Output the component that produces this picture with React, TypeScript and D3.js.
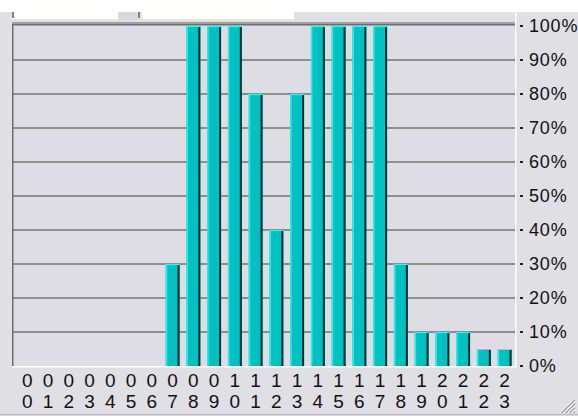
import React from "react";
import * as d3 from "d3";

const hours = ["00","01","02","03","04","05","06","07","08","09","10","11","12","13","14","15","16","17","18","19","20","21","22","23"];
const values = [0,0,0,0,0,0,0,30,100,100,100,80,40,80,100,100,100,100,30,10,10,10,5,5];
const yTicks = [0,10,20,30,40,50,60,70,80,90,100];

const W = 578, H = 418;
const plotL = 12, plotR = 515, plotT = 24, plotB = 366;

export default function App() {
  const x = d3.scaleBand<string>().domain(hours).range([17, 515]).paddingInner(0.33).paddingOuter(0.165);
  const y = d3.scaleLinear().domain([0, 100]).range([366, 26]);
  const bw = x.bandwidth();
  const font = "'Liberation Sans', Arial, sans-serif";
  return (
    <svg width={W} height={H} style={{ position: "absolute", left: 0, top: 0, display: "block" }}>
      <rect x={0} y={0} width={W} height={H} fill="#ffffff" />
      <rect x={0} y={12} width={W} height={403} fill="#dfdfe4" />
      {/* top strip boxes */}
      <rect x={12} y={12} width={106} height={8} fill="#fefefa" />
      <rect x={12} y={19} width={106} height={1} fill="#ece9d8" />
      <rect x={118} y={12} width={20} height={8} fill="#d8d8de" />
      <rect x={138} y={12} width={2} height={6} fill="#808080" />
      <rect x={142} y={12} width={152} height={8} fill="#fefefa" />
      <rect x={142} y={19} width={152} height={1} fill="#ece9d8" />
      <rect x={12} y={12} width={2} height={6} fill="#808080" />
      {/* plot area */}
      <rect x={plotL} y={plotT} width={plotR - plotL} height={plotB - plotT} fill="#dddde3" />
      {yTicks.filter(t => t > 0 && t < 100).map(t => (
        <line key={t} x1={plotL} x2={plotR} y1={y(t)} y2={y(t)} stroke="#8e8e8e" strokeWidth={2} />
      ))}
      <rect x={plotL} y={22} width={plotR - plotL} height={2} fill="#a0a0a0" />
      <rect x={plotL} y={24} width={plotR - plotL} height={1.5} fill="#6e6e6e" />
      <rect x={plotL} y={plotT} width={1.5} height={plotB - plotT} fill="#6e6e6e" />
      <rect x={plotR} y={12} width={1.5} height={plotB - 12 + 1} fill="#ffffff" />
      <rect x={plotL} y={plotB} width={plotR - plotL + 1.5} height={1.5} fill="#ffffff" />
      {/* bars */}
      {values.map((v, i) => {
        if (v <= 0) return null;
        const bx = x(hours[i])!;
        const by = y(v);
        const bh = y(0) - by;
        return (
          <g key={i}>
            <rect x={bx} y={by} width={bw} height={bh} fill="#00c0c0" />
            <rect x={bx} y={by} width={1.5} height={bh} fill="#00ffff" />
            <rect x={bx} y={by} width={bw} height={1} fill="#20ffff" />
            <rect x={bx + bw - 2} y={by + 1} width={2} height={bh - 1} fill="#0b2626" />
          </g>
        );
      })}
      {/* y labels */}
      {yTicks.map(t => (
        <g key={t}>
          <rect x={520} y={y(t) - 1} width={3} height={2} fill="#202020" />
          <text x={529} y={y(t)} dy="0.36em" fontFamily={font} fontSize={18} letterSpacing={0.8} fill="#111">{t}%</text>
        </g>
      ))}
      {/* x labels */}
      {hours.map(h => {
        const cx = x(h)! + bw / 2;
        return (
          <g key={h} fontFamily={font} fontSize={19} fill="#111" textAnchor="middle">
            <text x={cx} y={387}>{h[0]}</text>
            <text x={cx} y={408}>{h[1]}</text>
          </g>
        );
      })}
      {/* resize grip */}
      {[0, 4, 8, 12].map(o => (
        <g key={o}>
          <line x1={575} y1={398 + o} x2={560 + o} y2={413} stroke="#ffffff" strokeWidth={1} />
          <line x1={575} y1={399.5 + o} x2={561.5 + o} y2={413} stroke="#a0a0a8" strokeWidth={1.2} />
        </g>
      ))}
      <rect x={0} y={414} width={W} height={1.5} fill="#b8b8c0" />
    </svg>
  );
}
